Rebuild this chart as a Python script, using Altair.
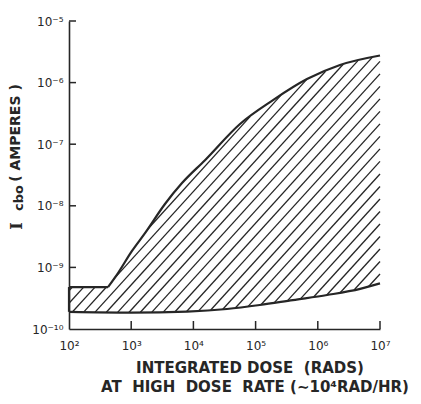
import altair as alt
import pandas as pd
import numpy as np

# ---- data ----
upper_flat_dose = [100, 424]
upper_flat_icbo = [4.8e-10, 4.8e-10]
upper_rise_dose = [424, 614, 1030, 1667, 3490, 6560, 15350, 56100, 190500, 670000, 2275000, 10000000]
upper_rise_icbo = [4.8e-10, 8.1e-10, 1.85e-9, 3.6e-9, 1.07e-8, 2.34e-8, 5.5e-8, 2.13e-7, 5.2e-7, 1.14e-6, 1.93e-6, 2.75e-6]
lower_dose = [100, 1000, 7900, 34700, 117000, 398000, 1410000, 4800000, 10000000]
lower_icbo = [1.9e-10, 1.85e-10, 1.92e-10, 2.11e-10, 2.45e-10, 2.95e-10, 3.56e-10, 4.47e-10, 5.5e-10]

x_ticks = [1e2, 1e3, 1e4, 1e5, 1e6, 1e7]
x_tick_labels = ["10²", "10³", "10⁴", "10⁵", "10⁶", "10⁷"]
y_ticks = [1e-10, 1e-9, 1e-8, 1e-7, 1e-6, 1e-5]
y_tick_labels = ["10⁻¹⁰", "10⁻⁹", "10⁻⁸", "10⁻⁷", "10⁻⁶", "10⁻⁵"]

NB = "\u00a0"
x_title_lines = [
    "INTEGRATED" + NB + "DOSE" + NB + NB + "(RADS)",
    "AT" + NB * 2 + "HIGH" + NB * 2 + "DOSE" + NB * 2 + "RATE" + NB + "(∼10⁴RAD/HR)",
]
y_title_main = "I"
y_title_sub = "cbo"
y_title_rest = "(" + NB + "AMPERES" + NB + ")"

INK = "#262626"
W, H = 311, 308

# ---- boundary tables ----
upper_df = pd.DataFrame({
    "dose": upper_flat_dose + upper_rise_dose,
    "icbo": upper_flat_icbo + upper_rise_icbo,
    "seg": ["flat"] * len(upper_flat_dose) + ["rise"] * len(upper_rise_dose),
})
lower_df = pd.DataFrame({"dose": lower_dose, "icbo": lower_icbo})

# ---- hatch pattern clipped to the band between the two boundaries ----
ux = np.log10(upper_flat_dose[:1] + upper_rise_dose)
uy = np.log10(upper_flat_icbo[:1] + upper_rise_icbo)
lx_ = np.log10(lower_dose)
ly_ = np.log10(lower_icbo)
grid = np.linspace(2, 7, 4001)
up = np.interp(grid, ux, uy)
lo = np.interp(grid, lx_, ly_)
slope, step = 1.11, 0.203
cmax = np.max(up - slope * grid)
cmin = np.min(lo - slope * grid)
rows = []
lid = 0
for c in np.arange(cmax - 0.06, cmin, -step):
    yl = slope * grid + c
    inside = (yl >= lo) & (yl <= up)
    if not inside.any():
        continue
    idx = np.flatnonzero(inside)
    breaks = np.flatnonzero(np.diff(idx) > 1)
    starts = np.r_[idx[0], idx[breaks + 1]]
    ends = np.r_[idx[breaks], idx[-1]]
    for a, b in zip(starts, ends):
        if b - a < 2:
            continue
        for k in (a, b):
            rows.append({"id": lid, "dose": 10 ** grid[k], "icbo": 10 ** yl[k]})
        lid += 1
hatch_df = pd.DataFrame(rows)

xscale = alt.Scale(type="log", domain=[1e2, 1e7], nice=False)
yscale = alt.Scale(type="log", domain=[1e-10, 1e-5], nice=False)

def lab_expr(vals, labels):
    expr = "''"
    for v, s in zip(reversed(vals), reversed(labels)):
        expr = f"(abs(log(datum.value)/LN10 - ({np.log10(v):.0f})) < 0.1) ? '{s}' : " + expr
    return expr

x_axis = alt.Axis(
    values=x_ticks, title=None, grid=False, ticks=False,
    labelExpr=lab_expr(x_ticks, x_tick_labels),
    domainColor=INK, domainWidth=1.6, labelFont="DejaVu Sans", labelFontSize=12,
    labelColor=INK, labelPadding=11, labelFlush=False, labelOverlap=False,
)
y_axis = alt.Axis(
    values=y_ticks, title=None, grid=False, ticks=False,
    labelExpr=lab_expr(y_ticks, y_tick_labels),
    domainColor=INK, domainWidth=1.6, labelFont="DejaVu Sans", labelFontSize=12,
    labelColor=INK, labelPadding=6, labelOverlap=False,
)

X = alt.X("dose:Q", scale=xscale, axis=x_axis)
Y = alt.Y("icbo:Q", scale=yscale, axis=y_axis)

hatch = alt.Chart(hatch_df).mark_line(color=INK, strokeWidth=1.3).encode(
    x=X, y=Y, detail="id:N", order="dose:Q",
)
upper = alt.Chart(upper_df).mark_line(color=INK, strokeWidth=2.2, interpolate="monotone").encode(
    x=X, y=Y, detail="seg:N",
)
lower = alt.Chart(lower_df).mark_line(color=INK, strokeWidth=2.2, interpolate="monotone").encode(
    x=X, y=Y,
)
edge_df = pd.DataFrame({"dose": [upper_flat_dose[0]], "icbo": [lower_icbo[0]], "hi": [upper_flat_icbo[0]]})
left_edge = alt.Chart(edge_df).mark_rule(color=INK, strokeWidth=2.2).encode(
    x=X, y=Y, y2="hi:Q",
)
ytick_df = pd.DataFrame({"icbo": y_ticks[1:]})
ytick_rules = alt.Chart(ytick_df).mark_rule(color=INK, strokeWidth=1.5).encode(
    y=Y, x=alt.value(0), x2=alt.value(7),
)
xtick_df = pd.DataFrame({"dose": x_ticks[1:]})
xtick_rules = alt.Chart(xtick_df).mark_rule(color=INK, strokeWidth=1.5).encode(
    x=X, y=alt.value(H), y2=alt.value(H - 8),
)

def label(text, x, y, size, angle=0, font="DejaVu Sans", weight="bold", baseline="middle"):
    return alt.Chart(pd.DataFrame({"t": [text]})).mark_text(
        font=font, fontSize=size, fontWeight=weight, color=INK, angle=angle,
        align="center", baseline=baseline,
    ).encode(text="t:N", x=alt.value(x), y=alt.value(y))

texts = [
    label(x_title_lines[0], 181, 352, 15, baseline="alphabetic"),
    label(x_title_lines[1], 186, 371, 15, baseline="alphabetic"),
    label(y_title_rest, -53, 112, 14, angle=270),
    label(y_title_sub, -50, 177, 13, angle=270),
    label(y_title_main, -52, 205, 16, angle=270, font="DejaVu Serif"),
]

chart = alt.layer(hatch, upper, lower, left_edge, ytick_rules, xtick_rules, *texts).properties(
    width=W, height=H,
    background="white",
    autosize=alt.AutoSizeParams(type="none"),
    padding={"left": 61, "top": 13, "right": 33, "bottom": 67},
).configure_view(stroke=None)

chart.save("out.html", embed_options={"renderer": "svg", "actions": False})
